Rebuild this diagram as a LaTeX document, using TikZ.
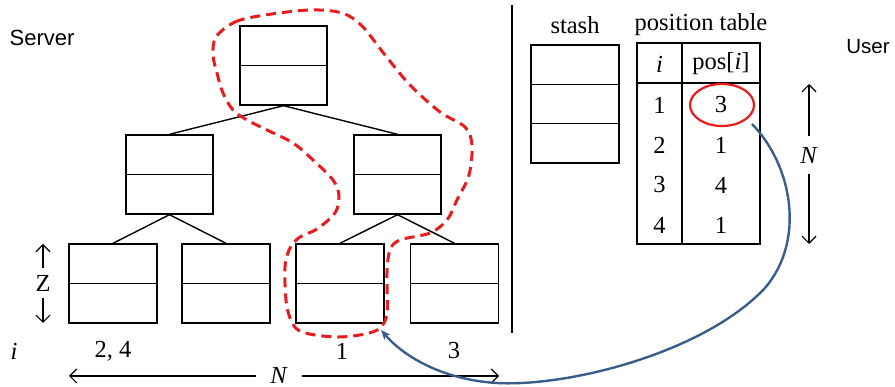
\documentclass[tikz,border=0pt]{standalone}
\usepackage{fontspec}
\setmainfont{Liberation Serif}
\setsansfont{Liberation Sans}
\usetikzlibrary{arrows.meta,shapes.geometric}
\definecolor{pathred}{RGB}{232,28,28}
\definecolor{linkblue}{RGB}{58,94,140}
\begin{document}
\begin{tikzpicture}[x=1pt,y=-1pt,
  every node/.style={font=\fontsize{24.5}{28}\selectfont},
  bucket/.style={draw,line width=1.4pt,minimum width=87pt,minimum height=79pt,inner sep=0pt},
  edge/.style={line width=1.4pt},
  barb/.style={line width=1.2pt,-{Straight Barb[length=7pt,width=14pt]}},
  lbl/.style={inner sep=0pt}]
\useasboundingbox (0,0) rectangle (895,387);
% tree
\node[bucket] (r) at (283.5,65.5) {};
\node[bucket] (a) at (169.5,174.5) {};
\node[bucket] (b) at (397.5,174.5) {};
\node[bucket,minimum width=88pt] (l1) at (113,283.5) {};
\node[bucket,minimum width=88pt] (l2) at (226,283.5) {};
\node[bucket,minimum width=88pt] (l3) at (340,283.5) {};
\node[bucket,minimum width=88pt] (l4) at (454.5,283.5) {};
\foreach \n in {r,a,b,l1,l2,l3,l4}{\draw[edge] (\n.west) -- (\n.east);}
\draw[edge] (r.south) -- (a.north);
\draw[edge] (r.south) -- (b.north);
\draw[edge] (a.south) -- (l1.north);
\draw[edge] (a.south) -- (l2.north);
\draw[edge] (b.south) -- (l3.north);
\draw[edge] (b.south) -- (l4.north);
% labels server side
\node[lbl,font=\sffamily\fontsize{22}{26}\selectfont] (srv) at (42,38) {Server};
\node[lbl] (Z) at (43,283) {Z};
\coordinate (zt) at (43,244);
\coordinate (zb) at (43,323);
\draw[barb] (43,268) -- (zt);
\draw[barb] (43,298) -- (zb);
\node[lbl] (ii) at (14,351) {\textit{i}};
\node[lbl] (i24) at (113,351) {2, 4};
\node[lbl] (i1) at (342,351) {1};
\node[lbl] (i3) at (454,351) {3};
\node[lbl] (Nh) at (279,375) {\textit{N}};
\coordinate (nl) at (69,376);
\coordinate (nr) at (499,376);
\draw[barb] ([xshift=-14pt]Nh.west |- nl) -- (nl);
\draw[barb] ([xshift=14pt]Nh.east |- nr) -- (nr);
% divider
\coordinate (dt) at (512,5);
\coordinate (db) at (512,333);
\draw[line width=1.6pt] (dt) -- (db);
% stash
\node[lbl] (st) at (575,25) {stash};
\node[draw,line width=1.4pt,minimum width=88pt,minimum height=118pt,inner sep=0pt] (stash) at (575,104) {};
\draw[edge] (531,84.3) -- (619,84.3);
\draw[edge] (531,123.7) -- (619,123.7);
% position table
\node[lbl] (pt) at (701,25) {position table};
\node[draw,line width=1.4pt,minimum width=123pt,minimum height=201pt,inner sep=0pt] (tab) at (698.5,143.5) {};
\draw[edge] (682,43) -- (682,244);
\draw[edge] (637,83) -- (760,83);
\node[lbl] (hi) at (659.5,64) {\textit{i}};
\node[lbl] (hp) at (721,64) {pos[\textit{i}]};
\foreach \k/\v [count=\j] in {1/3,2/1,3/4,4/1}{
  \node[lbl] (c\j) at (659.5,65+40*\j) {\k};
  \node[lbl] (p\j) at (721,65+40*\j) {\v};
}
\node[draw=pathred,line width=2.2pt,ellipse,minimum width=64pt,minimum height=42pt,inner sep=0pt] (sel) at (722,105) {};
% user side
\node[lbl,font=\sffamily\fontsize{20.5}{24}\selectfont] (usr) at (868,47) {User};
\node[lbl] (Nv) at (809,155) {\textit{N}};
\coordinate (nt) at (809,84);
\coordinate (nb) at (809,244);
\draw[barb] ([yshift=11pt]Nv.north) -- (nt);
\draw[barb] ([yshift=-11pt]Nv.south) -- (nb);
% red dashed path
\draw[pathred,line width=3pt,dash pattern=on 10pt off 6pt] plot[smooth cycle,tension=0.55] coordinates {
 (216,37) (235,22) (265,15) (310,10) (342,13) (362,26) (385,55) (410,85) (440,112) (465,127)
 (472,145) (469,175) (457,200) (447,220) (430,233) (400,240) (390,250) (387,273) (387,313)
 (380,328) (365,334) (340,337) (315,335) (298,330) (290,318) (286,300) (285,267) (290,248)
 (300,237) (317,229) (335,213) (339,196) (333,180) (313,160) (293,143) (267,130) (247,120)
 (233,110) (223,93) (217,73) (213,55)};
% blue link
\coordinate (start) at (752,124);
\coordinate (tip) at (381,330);
\draw[linkblue,line width=2.4pt,-{Stealth[length=10pt,width=8pt]}] (start) .. controls (792,165) and (806,240) .. (765,288) .. controls (705,352) and (570,387) .. (497,383) .. controls (445,380) and (405,358) .. (tip);
\end{tikzpicture}
\end{document}
